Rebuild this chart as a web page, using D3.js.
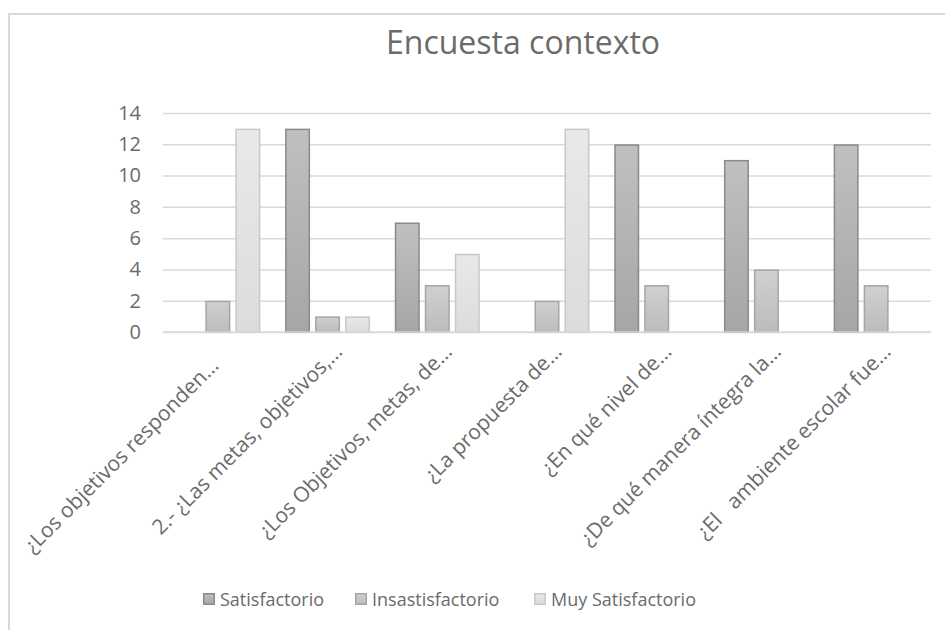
<!DOCTYPE html>
<html>
<head>
<meta charset="utf-8">
<script src="https://cdn.jsdelivr.net/npm/d3@7"></script>
<style>
  html, body { margin: 0; padding: 0; background: #ffffff; }
  svg { display: block; }
  text { font-family: "Open Sans", Lato, sans-serif; fill: #6b6b6b; }
</style>
</head>
<body>
<svg id="chart" width="945" height="630"></svg>
<script>
const title = "Encuesta contexto";
const categories = [
  "¿Los objetivos responden…",
  "2.- ¿Las metas, objetivos,…",
  "¿Los Objetivos, metas, de…",
  "¿La propuesta de…",
  "¿En qué nivel de…",
  "¿De qué manera íntegra la…",
  "¿El   ambiente escolar fue…"
];
const seriesNames = ["Satisfactorio", "Insastisfactorio", "Muy Satisfactorio"];
const satisfactorio = [null, 13, 7, null, 12, 11, 12];
const insatisfactorio = [2, 1, 3, 2, 3, 4, 3];
const muySatisfactorio = [13, 1, 5, 13, null, null, null];
const yTicks = [0, 2, 4, 6, 8, 10, 12, 14];

const seriesValues = [satisfactorio, insatisfactorio, muySatisfactorio];
const seriesStyle = [
  { top: "#c0c0c0", bottom: "#a6a6a6", stroke: "#8a8a8a" },
  { top: "#d0d0d0", bottom: "#bcbcbc", stroke: "#a5a5a5" },
  { top: "#e9e9e9", bottom: "#dcdcdc", stroke: "#c8c8c8" }
];

const svg = d3.select("#chart");
const W = 945, H = 630;
const plot = { left: 163, right: 931, top: 113, bottom: 332 };

// chart border (cropped on right/bottom)
svg.append("rect")
  .attr("x", 9).attr("y", 14)
  .attr("width", W + 20).attr("height", H + 20)
  .attr("fill", "#fff").attr("stroke", "#d9d9d9").attr("stroke-width", 2);

// gradients
const defs = svg.append("defs");
seriesStyle.forEach((s, i) => {
  const g = defs.append("linearGradient").attr("id", "grad" + i)
    .attr("x1", 0).attr("y1", 0).attr("x2", 0).attr("y2", 1);
  g.append("stop").attr("offset", "0%").attr("stop-color", s.top);
  g.append("stop").attr("offset", "100%").attr("stop-color", s.bottom);
});

const x0 = d3.scaleBand().domain(categories)
  .range([plot.left, plot.right]).paddingInner(0.18).paddingOuter(0.09);
const x1 = d3.scaleBand().domain(seriesNames)
  .range([0, x0.bandwidth()]).paddingInner(1 / 6).paddingOuter(1 / 12);
const y = d3.scaleLinear().domain([0, 14]).range([plot.bottom, plot.top]);

// title
svg.append("text")
  .attr("x", 523).attr("y", 54)
  .attr("text-anchor", "middle")
  .style("font-size", "32px")
  .text(title);

// gridlines + y tick labels
const yAxis = d3.axisLeft(y).tickValues(yTicks).tickSize(-(plot.right - plot.left)).tickPadding(22);
const gy = svg.append("g").attr("transform", `translate(${plot.left},0)`).call(yAxis);
gy.select(".domain").remove();
gy.selectAll(".tick line").attr("stroke", "#d9d9d9").attr("stroke-width", 1.5);
gy.selectAll(".tick text").style("font-size", "20px").attr("fill", "#6b6b6b")
  .style("font-family", "'Open Sans', Lato, sans-serif");

// bars
seriesValues.forEach((vals, si) => {
  const st = seriesStyle[si];
  svg.append("g").selectAll("rect")
    .data(categories.map((c, i) => ({ c, v: vals[i] })).filter(d => d.v != null))
    .join("rect")
    .attr("x", d => x0(d.c) + x1(seriesNames[si]) + 0.75)
    .attr("y", d => y(d.v) + 0.75)
    .attr("width", x1.bandwidth() - 1.5)
    .attr("height", d => y(0) - y(d.v) - 0.75)
    .attr("fill", `url(#grad${si})`)
    .attr("stroke", st.stroke)
    .attr("stroke-width", 1.5);
});

// baseline
svg.append("line")
  .attr("x1", plot.left).attr("x2", plot.right)
  .attr("y1", y(0)).attr("y2", y(0))
  .attr("stroke", "#d9d9d9").attr("stroke-width", 1.5);

// x labels
svg.append("g").selectAll("text")
  .data(categories)
  .join("text")
  .attr("transform", (d, i) => {
    const cx = x0(d) + x0.bandwidth() / 2;
    const off = i === 0 ? [2, 367] : [16, 353];
    return `translate(${cx + off[0]},${off[1]}) rotate(-45)`;
  })
  .attr("text-anchor", "end")
  .style("font-size", "21px")
  .style("white-space", "pre")
  .attr("xml:space", "preserve")
  .text(d => d);

// legend
const legendX = [203, 355, 534];
const lg = svg.append("g");
seriesNames.forEach((n, i) => {
  lg.append("rect")
    .attr("x", legendX[i] + 0.75).attr("y", 593.75)
    .attr("width", 10.5).attr("height", 10.5)
    .attr("fill", `url(#grad${i})`)
    .attr("stroke", seriesStyle[i].stroke).attr("stroke-width", 1.5);
  lg.append("text")
    .attr("x", legendX[i] + 17).attr("y", 606)
    .style("font-size", "18px")
    .text(n);
});
</script>
</body>
</html>
